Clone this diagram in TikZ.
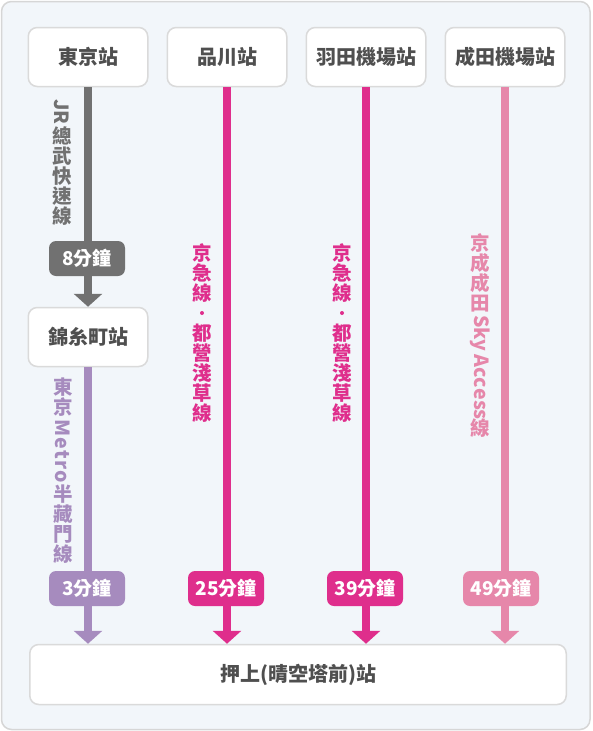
\documentclass[tikz,border=0pt]{standalone}
\usepackage{fontspec}
\usepackage{graphicx}
\setmainfont{Noto Sans CJK TC}
\usetikzlibrary{arrows.meta}
\definecolor{bgcol}{HTML}{F2F6FA}
\definecolor{framecol}{HTML}{D6D6D6}
\definecolor{boxline}{HTML}{DADADA}
\definecolor{txtcol}{HTML}{4F4F4F}
\definecolor{gcol}{HTML}{717171}
\definecolor{pcol}{HTML}{A68BBE}
\definecolor{mcol}{HTML}{DF2E8C}
\definecolor{kcol}{HTML}{E687AA}
\newcommand\vcj[1]{\vbox to 20pt{\vss\hbox to 20pt{\hss#1\hss}\vss}}
\newcommand\vlat[1]{\vbox{\kern1.5pt\hbox to 20pt{\hss\rotatebox{-90}{#1}\hss}\kern1.5pt}}
\newcommand\vlabel[1]{\vbox{\offinterlineskip\fontsize{19.5}{20}\selectfont\bfseries #1}}
\newcommand\vdot{\vbox to 20pt{\vss\hbox to 20pt{\hss\tikz[baseline=0pt]\fill (0pt,0pt) circle (2pt);\hss}\vss}}
\tikzset{
  station/.style={draw=boxline, line width=1.5pt, fill=white, rounded corners=9pt,
    minimum width=119.5pt, minimum height=59pt, inner sep=0pt,
    font=\fontsize{20}{20}\selectfont\bfseries, text=txtcol},
  badge/.style={rounded corners=7pt, minimum width=76pt, minimum height=35pt, inner sep=0pt,
    text=white, font=\fontsize{19}{19}\selectfont\bfseries},
  rail/.style={line width=8pt, -{Triangle[width=28pt,length=13pt]}},
  rlabel/.style={inner sep=0pt}
}
\begin{document}
\begin{tikzpicture}[x=1pt,y=-1pt]
\path[use as bounding box] (0,0) rectangle (592,731);
\draw[draw=framecol, fill=bgcol, line width=1.5pt, rounded corners=10pt] (1.5,1.5) rectangle (590,729.5);

\node[station] (tokyo) at (88,57) {東京站};
\node[station] (shinagawa) at (227,57) {品川站};
\node[station] (haneda) at (366,57) {羽田機場站};
\node[station] (narita) at (505,57) {成田機場站};
\node[station] (kinshi) at (88,337) {錦糸町站};
\node[station, minimum width=536.5pt, minimum height=60pt] (oshiage) at (298,674.5) {押上(晴空塔前)站};

\draw[rail, gcol] (tokyo) -- (kinshi);
\draw[rail, pcol] (kinshi) -- (kinshi |- oshiage.north);
\draw[rail, mcol] (shinagawa) -- (shinagawa |- oshiage.north);
\draw[rail, mcol] (haneda) -- (haneda |- oshiage.north);
\draw[rail, kcol] (narita) -- (narita |- oshiage.north);

\node[badge, fill=gcol] (b1) at (87,258.5) {8分鐘};
\node[badge, fill=pcol] (b2) at (87,588.5) {3分鐘};
\node[badge, fill=mcol] (b3) at (226,588.5) {25分鐘};
\node[badge, fill=mcol] (b4) at (365,588.5) {39分鐘};
\node[badge, fill=kcol] (b5) at (501,588.5) {49分鐘};

\node[rlabel, text=gcol] (l1) at (62,162) {\vlabel{\vlat{JR}\vcj{總}\vcj{武}\vcj{快}\vcj{速}\vcj{線}}};
\node[rlabel, text=pcol] (l2) at (63,471) {\vlabel{\vcj{東}\vcj{京}\vlat{\makebox[64pt][s]{M\hfil e\hfil t\hfil r\hfil o}}\vcj{半}\vcj{藏}\vcj{門}\vcj{線}}};
\node[rlabel, text=mcol] (l3) at (202,333) {\vlabel{\vcj{京}\vcj{急}\vcj{線}\vdot\vcj{都}\vcj{營}\vcj{淺}\vcj{草}\vcj{線}}};
\node[rlabel, text=mcol] (l4) at (342,333) {\vlabel{\vcj{京}\vcj{急}\vcj{線}\vdot\vcj{都}\vcj{營}\vcj{淺}\vcj{草}\vcj{線}}};
\node[rlabel, text=kcol] (l5) at (480,336) {\vlabel{\vcj{京}\vcj{成}\vcj{成}\vcj{田}\vlat{\makebox[102pt][s]{S\hfil k\hfil y\hfil\ \hfil A\hfil c\hfil c\hfil e\hfil s\hfil s}}\vcj{線}}};
\end{tikzpicture}
\end{document}
